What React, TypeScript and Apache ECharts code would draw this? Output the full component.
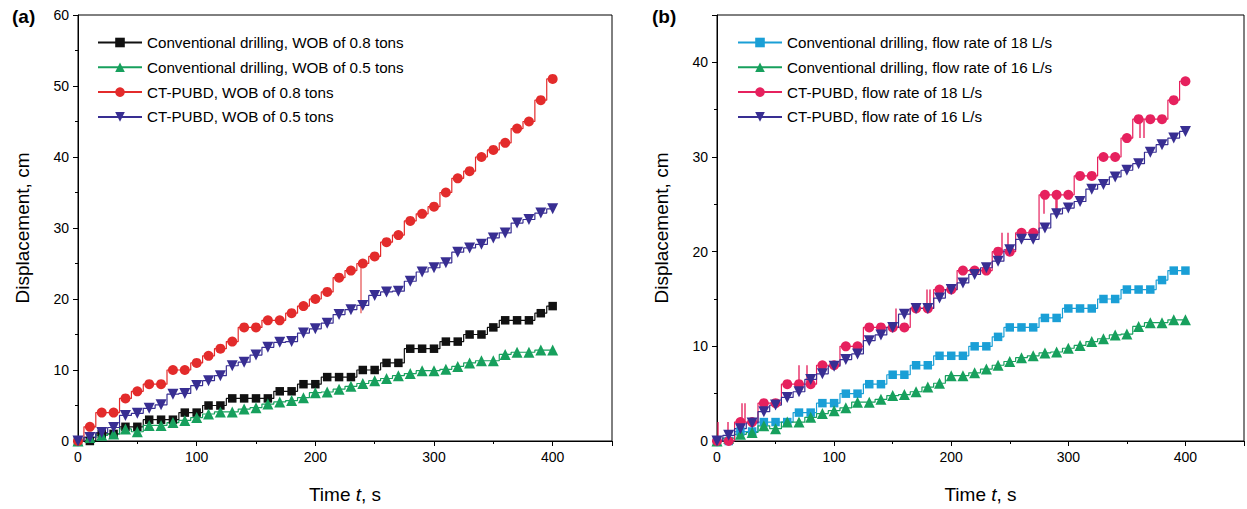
import React, { useEffect, useRef } from 'react';
import * as echarts from 'echarts';

const TIME = [0, 10, 20, 30, 40, 50, 60, 70, 80, 90, 100, 110, 120, 130, 140, 150, 160, 170, 180, 190, 200, 210, 220, 230, 240, 250, 260, 270, 280, 290, 300, 310, 320, 330, 340, 350, 360, 370, 380, 390, 400];

// Panel (a)
const CONV_WOB08 = [0, 0, 1, 1, 2, 2, 3, 3, 3, 4, 4, 5, 5, 6, 6, 6, 6, 7, 7, 8, 8, 9, 9, 9, 10, 10, 11, 11, 13, 13, 13, 14, 14, 15, 15, 16, 17, 17, 17, 18, 19];
const CONV_WOB05 = [0, 0.5, 0.8, 1, 1.7, 1.3, 2.2, 2.2, 2.6, 2.9, 3.3, 3.8, 4.1, 4.1, 4.5, 4.7, 5.2, 5.5, 5.7, 6.1, 6.8, 6.9, 7.3, 7.7, 8.1, 8.5, 8.8, 9.2, 9.5, 9.9, 9.9, 10.1, 10.5, 11, 11.3, 11.3, 12.2, 12.5, 12.5, 12.8, 12.8];
const CT_WOB08 = [0, 2, 4, 4, 6, 7, 8, 8, 10, 10, 11, 12, 13, 14, 16, 16, 17, 17, 18, 19, 20, 21, 23, 24, 25, 26, 28, 29, 31, 32, 33, 35, 37, 38, 40, 41, 42, 44, 45, 48, 51];
const CT_WOB05 = [0, 0.5, 1.2, 1.9, 3.6, 3.9, 4.6, 5.1, 6.6, 6.7, 7.8, 8.5, 9.2, 10.6, 11.1, 12.1, 13.2, 13.9, 14, 15.2, 15.8, 16.6, 17.8, 18.5, 19.1, 20.5, 21, 21.1, 22.5, 23.8, 24.4, 25.1, 26.6, 27.2, 27.7, 28.6, 29.3, 30.7, 31.2, 32.1, 32.7];
// vertical glitches in the red record: [time, upper, lower]
const CT_WOB08_SPIKES = [[238, 25, 18]];

// Panel (b)
const CONV_Q18 = [0, 0, 1, 1, 2, 2, 2, 3, 3, 4, 4, 5, 5, 6, 6, 7, 7, 8, 8, 9, 9, 9, 10, 10, 11, 12, 12, 12, 13, 13, 14, 14, 14, 15, 15, 16, 16, 16, 17, 18, 18];
const CONV_Q16 = [0, 0.3, 0.7, 0.9, 1.6, 1.3, 2, 2, 2.5, 2.9, 3.2, 3.5, 4.1, 4.1, 4.4, 4.8, 4.9, 5.2, 5.7, 6.1, 6.9, 6.9, 7.2, 7.6, 8, 8.4, 8.8, 9, 9.3, 9.4, 9.8, 10.1, 10.5, 10.8, 11.2, 11.3, 12.1, 12.5, 12.5, 12.8, 12.8];
const CT_Q18 = [0, 0, 2, 2, 4, 4, 6, 6, 6, 8, 8, 10, 10, 12, 12, 12, 12, 14, 14, 16, 16, 18, 18, 18, 20, 20, 22, 22, 26, 26, 26, 28, 28, 30, 30, 32, 34, 34, 34, 36, 38];
const CT_Q16 = [0, 0.6, 1.3, 1.9, 3.1, 3.8, 4.6, 5.2, 6.5, 7.1, 7.9, 8.6, 9.2, 10.6, 11.2, 12, 13.4, 14, 14, 15.1, 16, 16.7, 17.6, 18.3, 19, 20.2, 21.3, 21.3, 22.5, 24, 24.6, 25.3, 26.6, 27.1, 27.9, 28.6, 29.3, 30.5, 31.3, 32, 32.7];
const CT_Q18_SPIKES = [
  [1, 2, 0], [9.5, 2, 0], [21, 4, 2], [23.5, 4, 2], [70, 8, 6], [77, 8, 6],
  [153, 14, 12], [179, 16, 14], [182, 16, 14], [243, 22, 20], [248, 22, 20],
  [279, 26, 24], [289, 26, 24], [290.5, 26, 24], [361, 34, 32], [364, 34, 32],
];

const X_TICKS = [0, 100, 200, 300, 400];

const NAMES_A = [
  'Conventional drilling, WOB of 0.8 tons',
  'Conventional drilling, WOB of 0.5 tons',
  'CT-PUBD, WOB of 0.8 tons',
  'CT-PUBD, WOB of 0.5 tons',
];
const NAMES_B = [
  'Conventional drilling, flow rate of 18 L/s',
  'Conventional drilling, flow rate of 16 L/s',
  'CT-PUBD, flow rate of 18 L/s',
  'CT-PUBD, flow rate of 16 L/s',
];

const FONT = '"Liberation Sans", Arial, sans-serif';
const DOWN_TRI = 'path://M0,0 L10,0 L5,9 Z';

function mk(name: string, vals: number[], color: string, symbol: string, size: number, idx: number) {
  return {
    type: 'line',
    name,
    xAxisIndex: idx,
    yAxisIndex: idx,
    data: TIME.map((t, i) => [t, vals[i]]),
    step: 'middle',
    symbol,
    symbolSize: size,
    showSymbol: true,
    itemStyle: { color },
    lineStyle: { color, width: 1.2 },
    emphasis: { disabled: true },
  };
}

function spikes(list: number[][], color: string, idx: number) {
  return {
    type: 'lines',
    coordinateSystem: 'cartesian2d',
    xAxisIndex: idx,
    yAxisIndex: idx,
    silent: true,
    lineStyle: { color, width: 1.5, opacity: 0.9 },
    data: list.map(([t, hi, lo]) => ({ coords: [[t, hi], [t, lo]] })),
  };
}

function xAxis(idx: number) {
  return {
    type: 'value',
    gridIndex: idx,
    min: 0,
    max: 450,
    interval: 100,
    axisLine: { show: true, lineStyle: { color: '#000', width: 1 } },
    axisTick: { show: true, inside: false, length: 5, lineStyle: { color: '#000' } },
    minorTick: { show: true, splitNumber: 2, length: 3, lineStyle: { color: '#000' } },
    splitLine: { show: false },
    axisLabel: {
      color: '#000',
      fontSize: 14,
      fontFamily: FONT,
      margin: 9,
      formatter: (v: number) => (X_TICKS.indexOf(v) >= 0 ? String(v) : ''),
    },
    name: 'Time {i|t}, s',
    nameLocation: 'middle',
    nameGap: 44,
    nameTextStyle: {
      color: '#000',
      fontSize: 19,
      fontFamily: FONT,
      rich: { i: { fontStyle: 'italic', fontSize: 19, fontFamily: FONT, color: '#000' } },
    },
  };
}

function yAxis(idx: number, max: number, gap: number) {
  return {
    type: 'value',
    gridIndex: idx,
    min: 0,
    max,
    interval: 10,
    axisLine: { show: true, lineStyle: { color: '#000', width: 1 } },
    axisTick: { show: true, inside: false, length: 5, lineStyle: { color: '#000' } },
    minorTick: { show: true, splitNumber: 2, length: 3, lineStyle: { color: '#000' } },
    splitLine: { show: false },
    axisLabel: {
      color: '#000',
      fontSize: 14,
      fontFamily: FONT,
      margin: 9,
      formatter: (v: number) => (v % 10 === 0 ? String(v) : ''),
    },
    name: 'Displacement, cm',
    nameLocation: 'middle',
    nameGap: gap,
    nameTextStyle: { color: '#000', fontSize: 19, fontFamily: FONT },
  };
}

function legend(left: number, names: string[]) {
  return {
    orient: 'vertical',
    left,
    top: 35,
    padding: 0,
    itemWidth: 44,
    itemHeight: 12,
    itemGap: 9.8,
    data: names,
    textStyle: { color: '#000', fontSize: 15.2, fontFamily: FONT },
    selectedMode: false,
  };
}

export default function App() {
  const ref = useRef<HTMLDivElement>(null);
  useEffect(() => {
    if (!ref.current) return;
    const chart = echarts.init(ref.current, undefined, { renderer: 'svg' });
    chart.setOption({
      animation: false,
      backgroundColor: '#fff',
      textStyle: { fontFamily: FONT },
      grid: [
        { left: 78, top: 15, width: 534, height: 427, show: true, borderColor: '#000', borderWidth: 1, backgroundColor: 'transparent' },
        { left: 717, top: 15, width: 532, height: 427, show: true, borderColor: '#000', borderWidth: 1, backgroundColor: 'transparent' },
      ],
      xAxis: [xAxis(0), xAxis(1)],
      yAxis: [yAxis(0, 60, 46), yAxis(1, 45, 46)],
      legend: [legend(97, NAMES_A), legend(737, NAMES_B)],
      graphic: [
        { type: 'text', left: 12, top: 7, style: { text: '(a)', fontSize: 19, fontWeight: 'bold', fontFamily: FONT, fill: '#000' } },
        { type: 'text', left: 652, top: 7, style: { text: '(b)', fontSize: 19, fontWeight: 'bold', fontFamily: FONT, fill: '#000' } },
      ],
      series: [
        spikes(CT_WOB08_SPIKES, '#e86060', 0),
        spikes(CT_Q18_SPIKES, '#e6215e', 1),
        mk(NAMES_A[0], CONV_WOB08, '#111111', 'rect', 8.5, 0),
        mk(NAMES_A[1], CONV_WOB05, '#17a05d', 'triangle', 11, 0),
        mk(NAMES_A[2], CT_WOB08, '#e32b2b', 'circle', 10, 0),
        mk(NAMES_A[3], CT_WOB05, '#382e92', DOWN_TRI, 11, 0),
        mk(NAMES_B[0], CONV_Q18, '#1a9fd6', 'rect', 8.5, 1),
        mk(NAMES_B[1], CONV_Q16, '#17a05d', 'triangle', 11, 1),
        mk(NAMES_B[2], CT_Q18, '#e6215e', 'circle', 10, 1),
        mk(NAMES_B[3], CT_Q16, '#382e92', DOWN_TRI, 11, 1),
      ],
    });
    return () => chart.dispose();
  }, []);
  return <div ref={ref} style={{ position: 'absolute', left: 0, top: 0, width: 1247, height: 509, background: '#fff' }} />;
}
